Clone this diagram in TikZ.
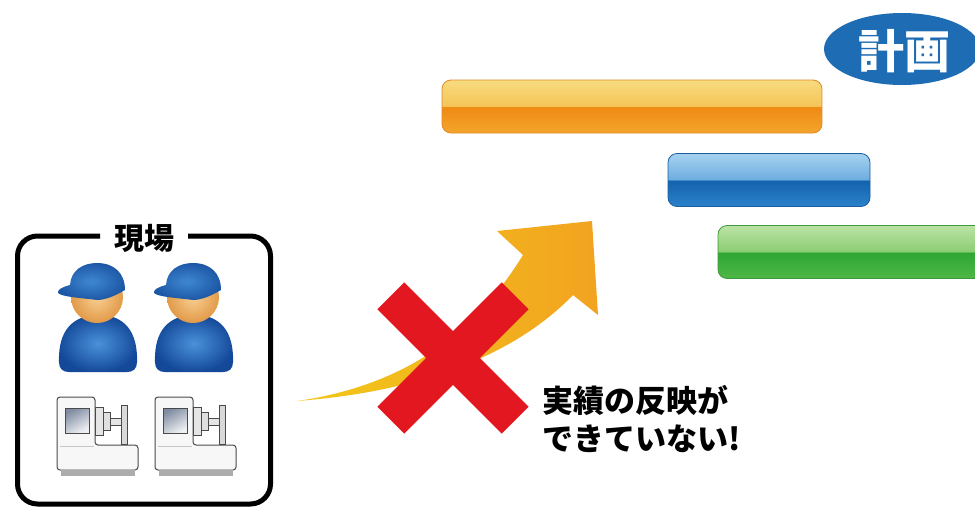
\documentclass[tikz,border=0pt]{standalone}
\usepackage{fontspec}
\newfontfamily\jpfont{Noto Sans CJK JP}
\usetikzlibrary{shapes.geometric}

% palette
\definecolor{otopA}{HTML}{F7DA7C}
\definecolor{otopB}{HTML}{F5C458}
\definecolor{obotA}{HTML}{EE8A14}
\definecolor{obotB}{HTML}{F4A52C}
\definecolor{oedge}{HTML}{E0892A}
\definecolor{btopA}{HTML}{A2CFEE}
\definecolor{btopB}{HTML}{6EAEE0}
\definecolor{bbotA}{HTML}{1462AE}
\definecolor{bbotB}{HTML}{2B82CA}
\definecolor{bedge}{HTML}{1C5E9E}
\definecolor{gtopA}{HTML}{B8E1A2}
\definecolor{gtopB}{HTML}{8CCD72}
\definecolor{gbotA}{HTML}{2EA634}
\definecolor{gbotB}{HTML}{4EB846}
\definecolor{gedge}{HTML}{3C9A3C}
\definecolor{planblue}{HTML}{1E6DB4}
\definecolor{crossred}{HTML}{E3171F}
\definecolor{swooshY}{HTML}{F2C81A}
\definecolor{swooshO}{HTML}{F2A320}
\definecolor{capblue}{HTML}{1D58A6}
\definecolor{capblueL}{HTML}{3F87D2}
\definecolor{bodyblue}{HTML}{14499A}
\definecolor{bodyblueL}{HTML}{4A92DA}
\definecolor{skinL}{HTML}{F8CF92}
\definecolor{skinD}{HTML}{E29A48}
\definecolor{mline}{HTML}{4A4A4A}
\definecolor{winD}{HTML}{7F8BA0}
\definecolor{winL}{HTML}{EEF0F3}

% glossy bar shadings: light upper half, darker lower half
\pgfdeclareverticalshading{orangegloss}{100bp}{color(0bp)=(obotB); color(25bp)=(obotB); color(49.5bp)=(obotA); color(50.5bp)=(otopB); color(73bp)=(otopA); color(100bp)=(otopA)}
\pgfdeclareverticalshading{bluegloss}{100bp}{color(0bp)=(bbotB); color(25bp)=(bbotB); color(49.5bp)=(bbotA); color(50.5bp)=(btopB); color(73bp)=(btopA); color(100bp)=(btopA)}
\pgfdeclareverticalshading{greengloss}{100bp}{color(0bp)=(gbotB); color(25bp)=(gbotB); color(49.5bp)=(gbotA); color(50.5bp)=(gtopB); color(73bp)=(gtopA); color(100bp)=(gtopA)}

\tikzset{
  bar/.style={rectangle, rounded corners=9pt, minimum height=53pt, line width=0.8pt, inner sep=0pt},
  crossbar/.style={rectangle, fill=crossred, minimum width=176pt, minimum height=38pt, inner sep=0pt},
  jplabel/.style={font=\jpfont\bfseries\fontsize{30pt}{36pt}\selectfont, text=black, inner sep=0pt},
  mpart/.style={draw=mline, line width=1pt},
  worker/.pic={
    % body
    \shade[inner color=bodyblueL, outer color=bodyblue]
      (-38,362) .. controls (-39,330) and (-24,315) .. (2,315)
      .. controls (26,315) and (41,330) .. (40,362)
      .. controls (40,369) and (36,372) .. (30,372) -- (-28,372)
      .. controls (-34,372) and (-38,369) .. (-38,362) -- cycle;
    % head
    \shade[inner color=skinL, outer color=skinD] (0,297) ellipse [x radius=26, y radius=26];
    % cap
    \shade[inner color=capblueL, outer color=capblue]
      (28,290) .. controls (18,296) and (8,300) .. (0,300)
      .. controls (-15,298) and (-35,297) .. (-39,293)
      .. controls (-40,290) and (-35,287) .. (-27,285)
      .. controls (-26,270) and (-14,263) .. (0,263)
      .. controls (17,263) and (28,273) .. (28,290) -- cycle;
  },
  lathe/.pic={
    % cabinet and bed
    \draw[mpart, rounded corners=3pt, fill=gray!6]
      (57,397) -- (95,397) -- (95,445) -- (138,445) -- (138,470) -- (57,470) -- cycle;
    \draw[gray!45, line width=0.8pt] (60,446) -- (94,446);
    % foot
    \fill[gray!65] (61,470) rectangle (135,476);
    % window
    \shade[mpart, left color=winD, right color=winL, shading angle=30] (65,408) rectangle (89,433);
    % spindle, shaft and tailstock
    \draw[mpart, fill=gray!20] (95,407) rectangle (103,435);
    \draw[mpart, fill=gray!25] (103,412) rectangle (110,430);
    \draw[mpart, fill=gray!20] (110,418) rectangle (121,425);
    \draw[mpart, fill=gray!30] (121,405) rectangle (127,444);
  }
}

\begin{document}
\begin{tikzpicture}[x=1pt, y=-1pt]
\useasboundingbox (0,0) rectangle (975,507);

% plan bars
\node[bar, shading=orangegloss, draw=oedge, minimum width=380pt] (plan1) at (632,106.5) {};
\node[bar, shading=bluegloss, draw=bedge, minimum width=202pt] (plan2) at (769,180) {};
\node[bar, shading=greengloss, draw=gedge, minimum width=290pt] (plan3) at (863,252) {};

% plan badge
\node[ellipse, fill=planblue, minimum width=156pt, minimum height=72pt, inner sep=0pt] (planbadge) at (902,49) {};
\node[jplabel, text=white, font=\jpfont\bfseries\fontsize{46pt}{46pt}\selectfont] (plantitle) at (904,51) {計画};

% shop floor frame
\coordinate (fgapL) at (100,236);
\coordinate (fgapR) at (188,236);
\draw[line width=5pt, rounded corners=20pt]
  (fgapL) -- (17.5,236) -- (17.5,504) -- (270.5,504) -- (270.5,236) -- (fgapR);
\node[jplabel] (floor) at (144,238) {現場};

\pic (w1) at (97,0) {worker};
\pic (w2) at (193,0) {worker};
\pic (m1) at (0,0) {lathe};
\pic (m2) at (98,0) {lathe};

% feedback swoosh
\coordinate (tail) at (297,401);
\coordinate (notchU) at (523,255);
\coordinate (barbU) at (497,231);
\coordinate (tip) at (592,221);
\coordinate (barbL) at (598,315);
\coordinate (notchL) at (573,295);
\shade[left color=swooshY, right color=swooshO]
  (tail) .. controls (400,386) and (472,338) .. (notchU) -- (barbU) -- (tip) -- (barbL) -- (notchL)
  .. controls (520,350) and (430,391) .. (tail) -- cycle;

% red cross
\node[crossbar, rotate=45] (xa) at (453,358) {};
\node[crossbar, rotate=-45] (xb) at (453,358) {};

% message
\node[jplabel, font=\jpfont\bfseries\fontsize{31pt}{38pt}\selectfont, anchor=north west, align=left] (msg) at (542,385) {実績の反映が\\できていない!};
\end{tikzpicture}
\end{document}
